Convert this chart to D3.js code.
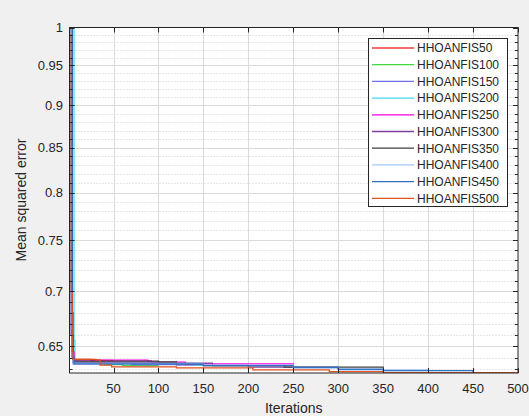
<!DOCTYPE html>
<html>
<head>
<meta charset="utf-8">
<script src="https://cdn.jsdelivr.net/npm/d3@7"></script>
<style>
  body { margin: 0; background: #f0f0f0; }
  text { font-family: "Liberation Sans", Arial, sans-serif; fill: #262626; }
</style>
</head>
<body>
<div id="chart"></div>
<script>
// legend names + colours
const seriesNames = ["HHOANFIS50", "HHOANFIS100", "HHOANFIS150", "HHOANFIS200", "HHOANFIS250",
  "HHOANFIS300", "HHOANFIS350", "HHOANFIS400", "HHOANFIS450", "HHOANFIS500"];
const seriesColors = ["#f03c3c", "#40d840", "#7070e8", "#40d8f0", "#ff00dd",
  "#7e3f9e", "#404040", "#a0c8f8", "#2f70c0", "#e0521c"];

// best-so-far MSE, [iteration, value] at each change (held until the next one)
const mse50 = [[1, 1.2], [3, 0.665], [4, 0.642], [6, 0.6385], [25, 0.6375], [50, 0.6375]];
const mse100 = [[1, 1.3], [3, 0.67], [4, 0.645], [5, 0.636], [40, 0.634], [60, 0.633], [100, 0.633]];
const mse150 = [[1, 1.25], [3, 0.66], [4, 0.640], [5, 0.6345], [70, 0.634], [120, 0.6335], [150, 0.6335]];
const mse200 = [[1, 1.8], [5, 1.05], [6, 0.655], [7, 0.638], [10, 0.6355], [90, 0.635], [140, 0.6335], [200, 0.6335]];
const mse250 = [[1, 1.3], [4, 0.68], [5, 0.645], [6, 0.6378], [88, 0.6372], [92, 0.636], [130, 0.6345], [250, 0.634]];
const mse300 = [[1, 1.2], [3, 0.66], [4, 0.641], [5, 0.636], [100, 0.6352], [160, 0.633], [200, 0.6318], [300, 0.6315]];
const mse350 = [[1, 1.2], [4, 0.66], [5, 0.64], [6, 0.637], [100, 0.6362], [120, 0.6345], [150, 0.633], [240, 0.6318], [350, 0.6311]];
const mse400 = [[1, 1.2], [3, 0.665], [4, 0.642], [5, 0.635], [150, 0.6335], [250, 0.6315], [300, 0.6295], [400, 0.6292]];
const mse450 = [[1, 1.3], [4, 0.66], [5, 0.64], [6, 0.6345], [150, 0.633], [250, 0.6315], [300, 0.630], [350, 0.6288], [449, 0.6288], [450, 0.6276]];
const mse500 = [[1, 0.99], [3, 0.70], [4, 0.645], [5, 0.6385], [30, 0.638], [35, 0.6335], [48, 0.632], [120, 0.6311], [205, 0.6295], [290, 0.628], [350, 0.627], [500, 0.627]];
const allSeries = [mse50, mse100, mse150, mse200, mse250, mse300, mse350, mse400, mse450, mse500];

const xTicks = [50, 100, 150, 200, 250, 300, 350, 400, 450, 500];
const yTicks = [0.65, 0.7, 0.75, 0.8, 0.85, 0.9, 0.95, 1];
const yTickLabels = ["0.65", "0.7", "0.75", "0.8", "0.85", "0.9", "0.95", "1"];

const width = 529, height = 416;
const pLeft = 69.5, pRight = 518, pTop = 27.5, pBottom = 373;

const svg = d3.select("#chart").append("svg")
  .attr("width", width)
  .attr("height", height);

svg.append("rect").attr("width", width).attr("height", height).attr("fill", "#f0f0f0");

const x = d3.scaleLinear().domain([1, 500]).range([pLeft, pRight]);
const y = d3.scaleLog().domain([0.6268, 1]).range([pBottom, pTop]);

// minor y positions every 0.01
const yMinor = d3.range(63, 100).filter(v => v % 5 !== 0).map(v => v / 100);

svg.append("rect")
  .attr("x", pLeft).attr("y", pTop)
  .attr("width", pRight - pLeft).attr("height", pBottom - pTop)
  .attr("fill", "#fff");

// grid
const grid = svg.append("g");
grid.selectAll(".minor").data(yMinor).join("line")
  .attr("x1", pLeft).attr("x2", pRight)
  .attr("y1", d => Math.round(y(d)) + 0.5).attr("y2", d => Math.round(y(d)) + 0.5)
  .attr("stroke", "#cfcfcf").attr("stroke-dasharray", "1,2");
grid.selectAll(".ymaj").data(yTicks.slice(0, -1)).join("line")
  .attr("x1", pLeft).attr("x2", pRight)
  .attr("y1", d => Math.round(y(d)) + 0.5).attr("y2", d => Math.round(y(d)) + 0.5)
  .attr("stroke", "#dadada");
grid.selectAll(".xmaj").data(xTicks.slice(0, -1)).join("line")
  .attr("x1", d => Math.round(x(d)) + 0.5).attr("x2", d => Math.round(x(d)) + 0.5)
  .attr("y1", pTop).attr("y2", pBottom)
  .attr("stroke", "#dadada");

svg.append("clipPath").attr("id", "plotclip")
  .append("rect").attr("x", pLeft).attr("y", pTop)
  .attr("width", pRight - pLeft).attr("height", pBottom - pTop);

const line = d3.line()
  .x(d => x(d[0]))
  .y(d => y(d[1]))
  .curve(d3.curveStepAfter);

svg.append("g").attr("clip-path", "url(#plotclip)")
  .selectAll("path").data(allSeries).join("path")
  .attr("d", line)
  .attr("fill", "none")
  .attr("stroke", (d, i) => seriesColors[i])
  .attr("stroke-width", 1.3);

// axes box + ticks (inward, like matlab)
const ax = svg.append("g").attr("stroke", "#262626").attr("stroke-width", 1);
ax.append("rect")
  .attr("x", pLeft).attr("y", pTop)
  .attr("width", pRight - pLeft).attr("height", pBottom - pTop)
  .attr("fill", "none");
xTicks.forEach(t => {
  const xp = Math.round(x(t)) + 0.5;
  ax.append("line").attr("x1", xp).attr("x2", xp).attr("y1", pBottom).attr("y2", pBottom - 5);
  ax.append("line").attr("x1", xp).attr("x2", xp).attr("y1", pTop).attr("y2", pTop + 5);
});
yTicks.forEach(t => {
  const yp = Math.round(y(t)) + 0.5;
  ax.append("line").attr("x1", pLeft).attr("x2", pLeft + 5).attr("y1", yp).attr("y2", yp);
  ax.append("line").attr("x1", pRight).attr("x2", pRight - 5).attr("y1", yp).attr("y2", yp);
});
yMinor.forEach(t => {
  const yp = Math.round(y(t)) + 0.5;
  ax.append("line").attr("x1", pLeft).attr("x2", pLeft + 3).attr("y1", yp).attr("y2", yp);
  ax.append("line").attr("x1", pRight).attr("x2", pRight - 3).attr("y1", yp).attr("y2", yp);
});

// tick labels
svg.append("g").selectAll("text").data(xTicks).join("text")
  .attr("x", d => x(d)).attr("y", 393)
  .attr("text-anchor", "middle").attr("font-size", 13)
  .text(d => d);
svg.append("g").selectAll("text").data(yTicks).join("text")
  .attr("x", 63).attr("y", d => y(d) + 4.5)
  .attr("text-anchor", "end").attr("font-size", 13)
  .text((d, i) => yTickLabels[i]);

svg.append("text")
  .attr("x", (pLeft + pRight) / 2).attr("y", 413)
  .attr("text-anchor", "middle").attr("font-size", 14)
  .text("Iterations");
svg.append("text")
  .attr("transform", "translate(26,200) rotate(-90)")
  .attr("text-anchor", "middle").attr("font-size", 14)
  .text("Mean squared error");

// legend
const lg = svg.append("g");
lg.append("rect")
  .attr("x", 368.5).attr("y", 38.5).attr("width", 139).attr("height", 168)
  .attr("fill", "#fff").attr("stroke", "#262626");
seriesNames.forEach((name, i) => {
  const yy = 48 + i * 16.7;
  lg.append("line")
    .attr("x1", 372).attr("x2", 414).attr("y1", yy).attr("y2", yy)
    .attr("stroke", seriesColors[i]).attr("stroke-width", 1.3);
  lg.append("text")
    .attr("x", 417).attr("y", yy + 4.3).attr("font-size", 12)
    .text(name);
});
</script>
</body>
</html>
